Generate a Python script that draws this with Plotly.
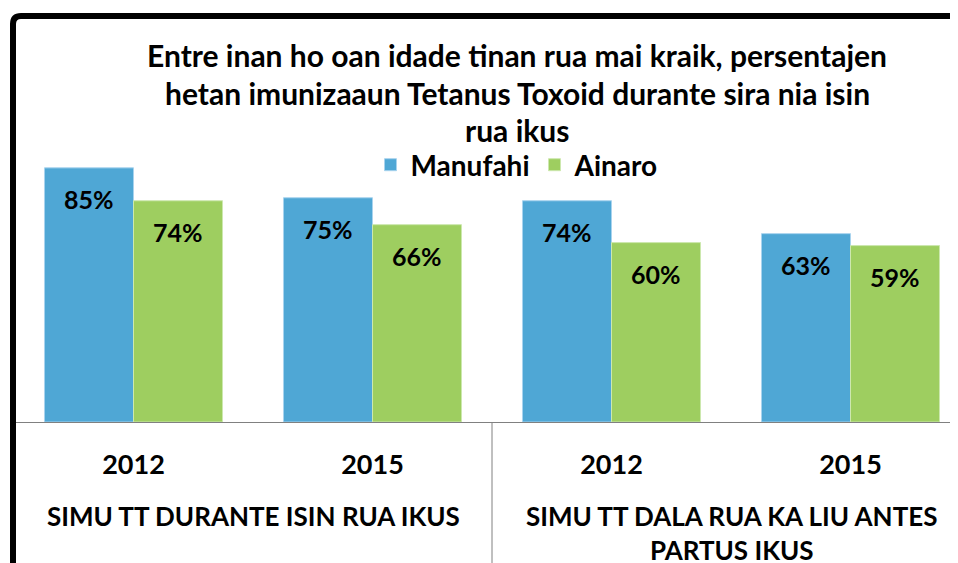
import plotly.graph_objects as go

categories = ["g1_2012", "g1_2015", "g2_2012", "g2_2015"]
year_labels = ["2012", "2015", "2012", "2015"]
group_labels = ["SIMU TT DURANTE ISIN RUA IKUS", "SIMU TT DALA RUA KA LIU ANTES<br>PARTUS IKUS"]
manufahi = [85, 75, 74, 63]
ainaro = [74, 66, 60, 59]
title_lines = [
    "Entre inan ho oan idade tinan rua mai kraik, persentajen",
    "hetan imunizaaun Tetanus Toxoid durante sira nia isin",
    "rua ikus",
]

OFF = 8  # page body margin offset
SW, SH = 958, 563  # screen size
W, H = SW, SH
L, R, T = 14 - OFF, 0, 30 - OFF
B = H - (422 - OFF)
PW, PH = W - L - R, H - T - B
CAT_PX = 239.0


def px_x(sx):
    return (sx - OFF - L) / PW


def px_y(sy):
    return (H - B - (sy - OFF)) / PH


FONT = "Lato, Open Sans, sans-serif"
BLUE = "#4FA7D5"
GREEN = "#9ECE60"
BARGAP = 0.255
half = (1 - BARGAP) / 4

fig = go.Figure()
fig.add_trace(go.Bar(name="Manufahi", x=categories, y=manufahi,
                     marker=dict(color=BLUE, line=dict(color="#A8D3EE", width=1))))
fig.add_trace(go.Bar(name="Ainaro", x=categories, y=ainaro,
                     marker=dict(color=GREEN, line=dict(color="#CDE8AE", width=1))))

annotations = []
for i, c in enumerate(categories):
    for val, off in ((manufahi[i], -half), (ainaro[i], half)):
        annotations.append(dict(x=i + off, y=val, xref="x", yref="y",
                                text=f"{val}%", showarrow=False, yshift=-31,
                                font=dict(family=FONT, size=25, color="black", weight="bold")))
for line, py in zip(title_lines, [55, 93, 130]):
    annotations.append(dict(x=px_x(517), y=px_y(py), xref="paper", yref="paper",
                            text=line, showarrow=False, xanchor="center", yanchor="middle",
                            font=dict(family=FONT, size=30, color="black", weight="bold")))
annotations.append(dict(x=0.5, y=px_y(516), xref="x", yref="paper", text=group_labels[0],
                        showarrow=False, yanchor="middle",
                        font=dict(family=FONT, size=26, color="black", weight="bold")))
annotations.append(dict(x=2.5, y=px_y(533), xref="x", yref="paper", text=group_labels[1],
                        showarrow=False, yanchor="middle",
                        font=dict(family=FONT, size=26, color="black", weight="bold")))

shapes = [
    dict(type="line", xref="x", yref="paper", x0=1.5, x1=1.5, y0=0, y1=px_y(SH + 5),
         line=dict(color="#808080", width=1)),
    dict(type="path", xref="paper", yref="paper",
         path=(f"M {px_x(13)} {px_y(SH + 10)} L {px_x(13)} {px_y(24)} "
               f"Q {px_x(13)} {px_y(16)} {px_x(21)} {px_y(16)} L {px_x(SW + 20)} {px_y(16)}"),
         line=dict(color="black", width=6)),
]

fig.update_layout(
    width=W, height=H,
    margin=dict(l=L, r=R, t=T, b=B, pad=0),
    plot_bgcolor="white", paper_bgcolor="white",
    barmode="group", bargap=BARGAP, bargroupgap=0.0,
    font=dict(family=FONT, color="black"),
    showlegend=True,
    legend=dict(orientation="h", x=px_x(517), y=px_y(165), xanchor="center", yanchor="middle",
                font=dict(family=FONT, size=28, color="black", weight="bold"),
                bgcolor="rgba(0,0,0,0)", itemwidth=30, traceorder="normal"),
    annotations=annotations,
    shapes=shapes,
    xaxis=dict(type="category", range=[-0.5, -0.5 + PW / CAT_PX], tickvals=categories,
               ticktext=year_labels, showgrid=False, zeroline=False,
               showline=True, linecolor="#808080", linewidth=1, ticks="",
               ticklabelstandoff=19,
               tickfont=dict(family=FONT, size=27, color="black", weight="bold")),
    yaxis=dict(range=[0, PH / 2.99], visible=False, showgrid=False, zeroline=False),
)

fig.write_html("out.html")
